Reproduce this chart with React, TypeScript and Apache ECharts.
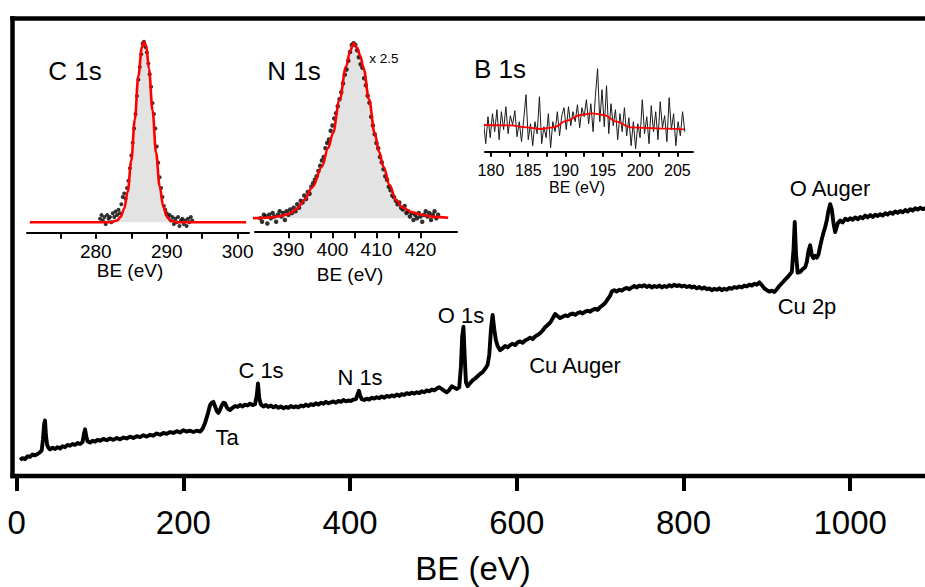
import React, { useEffect, useRef } from "react";
import * as echarts from "echarts";

const FONT = "'Liberation Sans', Arial, Helvetica, sans-serif";

// ---------- survey spectrum (BE in eV, intensity a.u.) ----------
const surveyTicks = [0, 200, 400, 600, 800, 1000];
const survey: [number, number][] = [
  [4,3.5],[7,3.9],[10,3.7],[13,4.3],[16,4.2],[19,4.7],[22,4.5],[25,4.8],[28,5.2],[30,5.6],[31.5,8.0],[33,11.5],[34,12.1],[35,9.0],[36.5,6.8],[38,6.2],[40,5.8],[43,6.2],[46,5.9],[49,6.3],[52,6.0],[55,6.5],[58,6.3],[61,6.8],[64,6.6],[67,7.0],[70,6.8],[73,7.2],[76,7.0],[79,7.4],[80.5,9.0],[82,10.2],[83.5,8.6],[85,7.6],[88,7.3],[91,7.7],[94,7.5],[97,7.9],[100,7.7],
  [104,8.1],[108,7.8],[112,8.2],[116,7.9],[120,8.3],[124,8.0],[128,8.4],[132,8.2],[136,8.6],[140,8.3],[144,8.7],[148,8.5],[152,8.9],[156,8.6],[160,9.0],[164,8.8],[168,9.3],[172,9.0],[176,9.4],[180,9.2],[184,9.6],[188,9.4],[192,9.8],[196,9.5],[200,10.0],[204,9.7],[208,9.9],[212,9.6],[216,9.9],[220,9.7],[223,10.3],[226,11.6],[229,13.4],[232,15.5],[234,16.0],[236,16.2],[238,15.2],[240,14.2],[242,13.8],[244,14.5],[246,15.4],[248,16.0],[250,15.9],[252,15.0],[254,14.6],[256,14.4],[259,14.9],[262,15.3],[265,15.1],[268,15.5],[271,15.2],[274,15.6],[277,15.4],[280,15.8],[283,15.5],[286,15.7],[288,17.5],[289.5,20.2],[291,17.0],[293,15.6],[296,15.2],[299,15.5],
  [302,15.1],[305,15.4],[308,15.0],[311,15.3],[314,14.9],[317,15.2],[320,14.8],[323,15.1],[326,14.9],[329,15.3],[332,15.0],[335,15.2],[338,15.0],[341,15.4],[344,15.2],[347,15.6],[350,15.3],[353,15.7],[356,15.5],[359,15.9],[362,15.6],[365,16.0],[368,15.8],[371,16.2],[374,15.9],[377,16.1],[380,16.3],[383,16.0],[386,16.4],[389,16.2],[392,16.6],[395,16.3],[398,16.5],[401,16.4],[404,16.7],[407,16.8],[409,17.8],[410.5,18.6],[412,17.6],[414,16.8],[417,16.6],[420,16.9],[423,16.7],[426,17.1],[429,16.9],[432,17.2],[435,17.0],[438,17.4],[441,17.1],[444,17.5],[447,17.3],[450,17.6],[453,17.4],[456,17.8],[459,17.5],[462,17.9],[465,17.7],[468,18.1],[471,17.9],[474,18.2],[477,18.0],[480,18.3],[483,18.1],[486,18.5],[489,18.3],[492,18.7],[495,18.5],[498,18.9],
  [501,18.7],[504,19.1],[507,19.4],[510,19.0],[513,18.6],[516,18.3],[519,18.8],[522,19.6],[525,19.3],[528,19.0],[531,19.4],[533,24.0],[534.5,30.5],[536,32.6],[537.5,26.0],[539,20.5],[541,19.6],[544,20.3],[547,20.9],[550,21.3],[553,21.8],[556,22.3],[559,22.7],[562,23.4],[565,24.3],[567,26.5],[569,32.0],[571,35.2],[573,32.0],[575,29.6],[577,28.4],[580,27.5],[583,27.9],[586,28.4],[589,28.1],[592,28.6],[595,28.9],[598,28.6],
  [601,29.2],[604,29.4],[607,29.1],[610,29.6],[613,29.9],[616,30.2],[619,29.9],[622,30.5],[625,30.8],[628,31.2],[631,31.8],[634,32.5],[637,33.0],[640,33.5],[643,34.4],[646,35.4],[649,34.9],[652,34.5],[655,34.8],[658,35.1],[661,34.9],[664,35.3],[667,35.5],[670,35.2],[673,35.6],[676,35.8],[679,35.5],[682,35.9],[685,36.1],[688,35.9],[691,36.3],[694,36.5],[697,36.3],[700,36.9],
  [703,37.3],[706,37.8],[709,38.6],[712,39.4],[714,40.3],[717,40.6],[720,40.3],[723,40.7],[726,40.5],[729,40.9],[732,41.1],[735,40.8],[738,41.2],[741,41.5],[744,41.2],[747,41.6],[750,41.4],[753,41.7],[756,41.3],[759,41.6],[762,41.2],[765,41.5],[768,41.3],[771,41.6],[774,41.2],[777,41.5],[780,41.3],[783,41.7],[786,41.4],[789,41.8],[792,41.5],[795,41.7],[798,41.4],
  [801,41.6],[804,41.3],[807,41.5],[810,41.2],[813,41.4],[816,41.0],[819,41.3],[822,40.9],[825,41.2],[828,40.8],[831,41.0],[834,40.6],[837,40.9],[840,40.7],[843,41.0],[846,40.6],[849,40.9],[852,40.7],[855,41.1],[858,40.9],[861,41.3],[864,41.1],[867,41.4],[870,41.2],[873,41.6],[876,41.4],[879,41.8],[882,41.6],[885,42.0],[888,41.8],[891,42.3],[894,41.7],[897,41.0],[900,40.6],
  [903,40.3],[906,40.5],[909,40.2],[912,40.8],[915,41.5],[918,42.1],[921,42.7],[924,43.3],[927,43.9],[930,44.6],[932,49.5],[933.5,55.5],[935,48.5],[937,44.4],[940,44.6],[943,45.2],[946,45.6],[948,46.8],[950,49.2],[952,50.4],[954,48.2],[956,47.6],[958,48.1],[960,47.7],[962,48.4],[964,50.2],[966,51.8],[968,53.2],[970,54.4],[972,55.9],[974,58.0],[976,59.4],[978,58.2],[980,55.2],[982,53.3],[985,55.2],[988,55.8],[991,55.4],[994,56.2],[997,55.9],[1000,56.3],
  [1003,56.0],[1006,56.5],[1009,56.1],[1012,56.6],[1015,56.3],[1018,56.9],[1021,56.5],[1024,57.0],[1027,56.6],[1030,57.1],[1033,56.8],[1036,57.2],[1039,56.9],[1042,57.4],[1045,57.1],[1048,57.6],[1051,57.3],[1054,57.8],[1057,57.5],[1060,57.9],[1063,57.6],[1066,58.1],[1069,57.8],[1072,58.3],[1075,58.0],[1078,58.5],[1081,58.2],[1084,58.6],[1087,58.3],[1090,58.5],[1094,58.4]
];

// ---------- C 1s inset ----------
const c1sTicks = [275, 280, 285, 290, 295, 300];
const c1sTickLabels = [280, 290, 300];
const c1sBEStart = 280.6;
const c1sBEStep = 0.2;
const c1sCounts = [
  0.02,0.04,0.01,0.03,-0.01,0.04,0.02,0.03,0.00,0.05,0.03,0.06,0.04,0.07,0.05,0.10,0.14,0.16,0.13,0.19,
  0.23,0.30,0.37,0.44,0.52,0.60,0.70,0.79,0.86,0.93,0.99,1.00,0.97,0.94,0.88,0.82,0.75,0.66,0.60,0.52,
  0.42,0.33,0.25,0.19,0.14,0.09,0.07,0.05,0.03,0.04,0.01,0.03,-0.01,0.02,0.00,0.03,-0.02,0.01,0.02,-0.01,
  0.01,-0.02,0.02,0.00,0.03,0.01
];
const c1sFit: [number, number][] = [
  [270.7,0],[282,0],[283,0.01],[283.5,0.03],[284,0.075],[284.5,0.17],[285,0.34],[285.5,0.57],[286,0.81],[286.5,0.97],
  [286.8,1.0],[287.1,0.98],[287.5,0.85],[288,0.62],[288.5,0.385],[289,0.2],[289.5,0.09],[290,0.034],[290.5,0.01],[291.5,0],[301.2,0]
];

// ---------- N 1s inset ----------
const n1sTicks = [390, 395, 400, 405, 410, 415, 420];
const n1sTickLabels = [390, 400, 410, 420];
const n1sBEStart = 383.6;
const n1sBEStep = 0.4;
const n1sCounts = [
  0.00,-0.02,0.02,0.01,-0.03,0.02,0.00,0.03,0.01,-0.02,0.02,0.04,0.01,0.03,-0.01,0.04,0.02,0.05,0.03,0.06,
  0.04,0.08,0.06,0.10,0.09,0.13,0.11,0.15,0.14,0.18,0.20,0.22,0.24,0.27,0.30,0.33,0.35,0.40,0.43,0.45,
  0.50,0.53,0.57,0.60,0.64,0.68,0.72,0.77,0.82,0.85,0.90,0.95,0.99,1.00,0.99,0.96,0.92,0.88,0.86,0.80,
  0.76,0.70,0.66,0.58,0.53,0.48,0.43,0.40,0.35,0.32,0.28,0.24,0.22,0.18,0.16,0.13,0.12,0.10,0.08,0.09,
  0.06,0.05,0.07,0.03,0.04,0.01,0.03,-0.01,0.02,0.00,0.03,0.01,-0.02,0.02,0.04,0.01,0.03,-0.01,0.02,0.04,
  0.00,0.02
];
const n1sFit: [number, number][] = [
  [381,0],[384,0.002],[386,0.006],[388,0.012],[389.5,0.02],[390.5,0.03],[392,0.057],[393.6,0.105],[395.5,0.18],[397.6,0.295],
  [399,0.40],[400.1,0.486],[401.6,0.676],[403.1,0.867],[404,0.955],[404.8,1.0],[405.6,0.975],[406.3,0.93],[407.1,0.855],[408.3,0.68],
  [409.6,0.486],[410.6,0.38],[411.6,0.295],[413,0.19],[414.4,0.105],[416,0.06],[418,0.035],[420.3,0.02],[423,0.008],[426.3,0.003]
];

// ---------- B 1s inset ----------
const b1sTicks = [180, 182.5, 185, 187.5, 190, 192.5, 195, 197.5, 200, 202.5, 205];
const b1sTickLabels = [180, 185, 190, 195, 200, 205];
const b1sBEStart = 179.0;
const b1sBEStep = 0.3;
const b1sCounts = [
  30,8,35,14,38,20,42,12,40,22,45,18,36,27,41,15,30,10,33,57,
  12,28,6,30,18,55,8,25,14,38,4,30,20,40,16,36,44,22,45,26,
  40,30,47,24,44,35,52,28,48,20,55,83,30,62,25,66,18,48,26,42,
  12,38,20,44,16,34,6,30,3,28,14,52,18,35,8,46,20,40,12,50,
  24,36,10,54,22,38,6,30,16,40,20
];
const b1sFit: [number, number][] = [
  [179,26.7],[182.6,26.4],[184.8,24.4],[186.6,22.7],[188.4,24.4],[190.2,31],[192,36.7],[193.6,38.4],[195.1,36.7],
  [196.9,30],[198.7,24.4],[200.9,23.7],[203.6,23],[205.9,22.4]
];

const toPairs = (start: number, step: number, vals: number[]) =>
  vals.map((v, i) => [Math.round((start + i * step) * 100) / 100, v]);

const txt = (text: string, x: number, y: number, size: number) => ({
  type: "text",
  x,
  y,
  silent: true,
  style: {
    text,
    fontSize: size,
    fontFamily: FONT,
    fill: "#000",
    align: "center",
    verticalAlign: "middle",
  },
});

const insetX = (
  gridIndex: number,
  min: number,
  max: number,
  ticks: number[],
  labels: number[],
  fontSize: number,
  margin: number,
  tickLen: number
) => ({
  type: "value",
  gridIndex,
  min,
  max,
  position: "bottom",
  axisLine: { show: true, onZero: false, lineStyle: { color: "#000", width: 2 } },
  axisTick: { show: true, inside: false, length: tickLen, customValues: ticks, lineStyle: { color: "#000", width: 2 } },
  axisLabel: {
    show: true,
    customValues: labels,
    margin,
    color: "#000",
    fontSize,
    fontFamily: FONT,
    formatter: (v: number) => String(v),
  },
  splitLine: { show: false },
});

export default function App() {
  const ref = useRef<HTMLDivElement>(null);

  useEffect(() => {
    if (!ref.current) return;
    const chart = echarts.init(ref.current, undefined, { renderer: "svg" });

    const option: any = {
      animation: false,
      backgroundColor: "#fff",
      textStyle: { fontFamily: FONT },
      grid: [
        { left: 12.53, top: 18.3, width: 921, height: 457.7, outerBoundsMode: "none", containLabel: false },
        { left: 27, top: 32.67, width: 222, height: 200.13, outerBoundsMode: "none", containLabel: false },
        { left: 255, top: 34.55, width: 202, height: 197.65, outerBoundsMode: "none", containLabel: false },
        { left: 485, top: 56.7, width: 208, height: 95, outerBoundsMode: "none", containLabel: false },
      ],
      xAxis: [
        {
          type: "value",
          gridIndex: 0,
          min: -5,
          max: 1100,
          position: "bottom",
          axisLine: { show: true, onZero: false, lineStyle: { color: "#000", width: 4.3, cap: "square" } },
          axisTick: { show: true, inside: false, length: 15, customValues: surveyTicks, lineStyle: { color: "#000", width: 4 } },
          axisLabel: {
            show: true,
            customValues: surveyTicks,
            margin: 29.5,
            color: "#000",
            fontSize: 33,
            fontFamily: FONT,
            formatter: (v: number) => String(v),
          },
          splitLine: { show: false },
          name: "BE (eV)",
          nameLocation: "middle",
          nameGap: 76,
          nameTextStyle: { color: "#000", fontSize: 33, fontFamily: FONT },
        },
        {
          type: "value",
          gridIndex: 0,
          min: -5,
          max: 1100,
          position: "top",
          axisLine: { show: true, onZero: false, lineStyle: { color: "#000", width: 4.5, cap: "square" } },
          axisTick: { show: false },
          axisLabel: { show: false },
          splitLine: { show: false },
        },
        insetX(1, 270.3, 301.6, c1sTicks, c1sTickLabels, 19, 9, 6),
        insetX(2, 382.4, 428.3, n1sTicks, n1sTickLabels, 19, 8, 6),
        insetX(3, 179.2, 207.1, b1sTicks, b1sTickLabels, 16, 11, 5),
      ],
      yAxis: [
        {
          type: "value",
          gridIndex: 0,
          min: 0,
          max: 100,
          axisLine: { show: true, onZero: false, lineStyle: { color: "#000", width: 4.5, cap: "square" } },
          axisTick: { show: false },
          axisLabel: { show: false },
          splitLine: { show: false },
        },
        { type: "value", gridIndex: 1, min: -0.058, max: 1.05, show: false, splitLine: { show: false } },
        { type: "value", gridIndex: 2, min: -0.0794, max: 1.05, show: false, splitLine: { show: false } },
        { type: "value", gridIndex: 3, min: 0, max: 95, show: false, splitLine: { show: false } },
      ],
      series: [
        {
          name: "survey",
          type: "line",
          xAxisIndex: 0,
          yAxisIndex: 0,
          data: survey,
          showSymbol: false,
          symbol: "none",
          lineStyle: { color: "#000", width: 3.9, join: "round" },
          z: 3,
        },
        // C 1s
        {
          type: "line",
          xAxisIndex: 2,
          yAxisIndex: 1,
          data: c1sFit,
          smooth: 0.35,
          smoothMonotone: "x",
          symbol: "none",
          lineStyle: { width: 0, opacity: 0 },
          areaStyle: { color: "#e3e3e3", opacity: 1 },
          z: 1,
        },
        {
          type: "scatter",
          xAxisIndex: 2,
          yAxisIndex: 1,
          data: toPairs(c1sBEStart, c1sBEStep, c1sCounts),
          symbol: "circle",
          symbolSize: 4,
          itemStyle: { color: "#000" },
          clip: false,
          z: 2,
        },
        {
          type: "line",
          xAxisIndex: 2,
          yAxisIndex: 1,
          data: c1sFit,
          smooth: 0.35,
          smoothMonotone: "x",
          symbol: "none",
          lineStyle: { color: "#ff0000", width: 2.6 },
          clip: false,
          z: 3,
        },
        // N 1s
        {
          type: "line",
          xAxisIndex: 3,
          yAxisIndex: 2,
          data: n1sFit,
          smooth: 0.35,
          smoothMonotone: "x",
          symbol: "none",
          lineStyle: { width: 0, opacity: 0 },
          areaStyle: { color: "#e3e3e3", opacity: 1 },
          clip: false,
          z: 1,
        },
        {
          type: "scatter",
          xAxisIndex: 3,
          yAxisIndex: 2,
          data: toPairs(n1sBEStart, n1sBEStep, n1sCounts),
          symbol: "circle",
          symbolSize: 4.5,
          itemStyle: { color: "#000" },
          clip: false,
          z: 2,
        },
        {
          type: "line",
          xAxisIndex: 3,
          yAxisIndex: 2,
          data: n1sFit,
          smooth: 0.35,
          smoothMonotone: "x",
          symbol: "none",
          lineStyle: { color: "#ff0000", width: 2.6 },
          clip: false,
          z: 3,
        },
        // B 1s
        {
          type: "line",
          xAxisIndex: 4,
          yAxisIndex: 3,
          data: toPairs(b1sBEStart, b1sBEStep, b1sCounts),
          symbol: "none",
          lineStyle: { color: "#1a1a1a", width: 1 },
          clip: false,
          z: 2,
        },
        {
          type: "line",
          xAxisIndex: 4,
          yAxisIndex: 3,
          data: b1sFit,
          smooth: 0.4,
          smoothMonotone: "x",
          symbol: "none",
          lineStyle: { color: "#ff0000", width: 1.8 },
          clip: false,
          z: 3,
        },
      ],
      graphic: [
        txt("C 1s", 75, 71, 26),
        txt("N 1s", 294, 71, 26),
        txt("B 1s", 500, 69, 26),
        txt("x 2.5", 384, 58, 13.5),
        txt("BE (eV)", 130, 270, 19),
        txt("BE (eV)", 350, 274, 19),
        txt("BE (eV)", 577, 187, 16),
        txt("Ta", 227, 437, 22),
        txt("C 1s", 261, 370, 22),
        txt("N 1s", 360, 377, 22),
        txt("O 1s", 461, 315, 22),
        txt("Cu Auger", 575, 365, 22),
        txt("Cu 2p", 807, 306, 22),
        txt("O Auger", 830, 188, 22),
      ],
    };

    chart.setOption(option);
    return () => chart.dispose();
  }, []);

  return (
    <div
      ref={ref}
      style={{ position: "absolute", left: 0, top: 0, width: 925, height: 587, background: "#fff" }}
    />
  );
}
